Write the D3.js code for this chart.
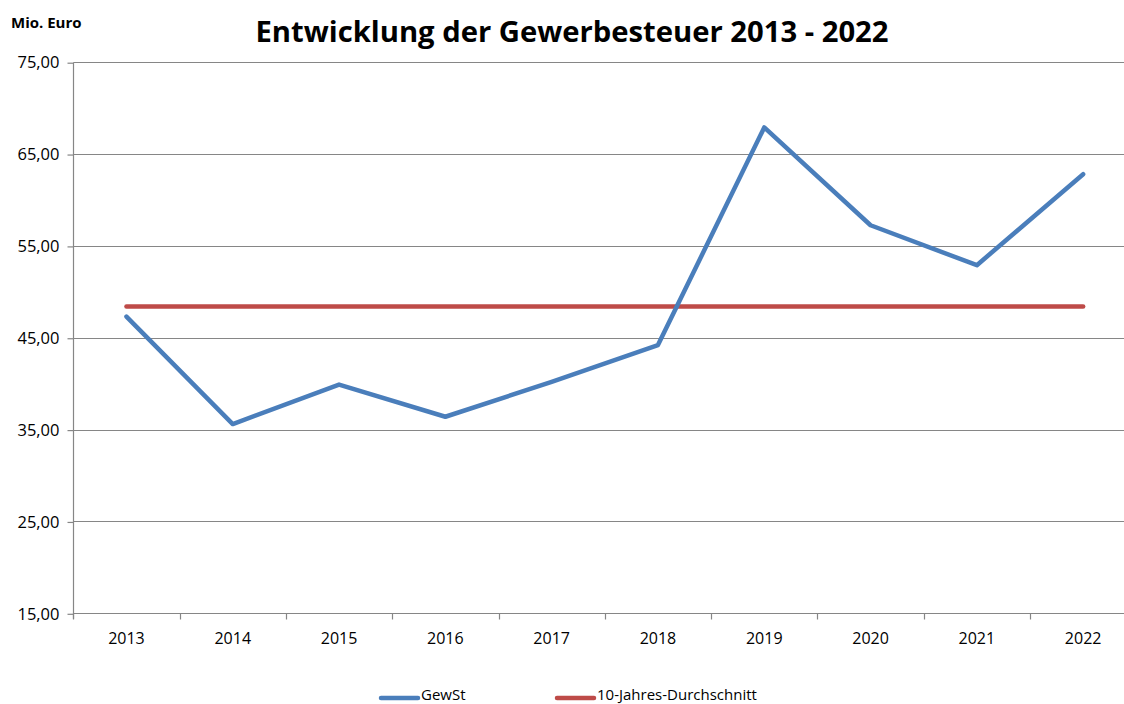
<!DOCTYPE html>
<html>
<head>
<meta charset="utf-8">
<script src="https://cdn.jsdelivr.net/npm/d3@7"></script>
<style>
  body { margin: 0; background: #fff; }
  text { font-family: "Open Sans", "DejaVu Sans", sans-serif; fill: #000; }
</style>
</head>
<body>
<div class="graph-container"></div>
<script>
// data
const years = ['2013', '2014', '2015', '2016', '2017', '2018', '2019', '2020', '2021', '2022'];
const gewSt = [47.3, 35.6, 39.9, 36.4, 40.2, 44.2, 67.9, 57.25, 52.9, 62.8];
const average = [48.4, 48.4, 48.4, 48.4, 48.4, 48.4, 48.4, 48.4, 48.4, 48.4];
const yTicks = [15, 25, 35, 45, 55, 65, 75];
const seriesNames = ['GewSt', '10-Jahres-Durchschnitt'];

// svg parameters
const w = 1124;
const h = 704;
const plotLeft = 73.3;
const plotTop = 62.2;
const plotBottom = 613.3;
const band = 106.3;

const svg = d3.select('.graph-container')
  .append('svg')
  .attr('width', w)
  .attr('height', h);

const xScale = d3.scaleBand(years, [plotLeft, plotLeft + band * years.length]);
const yScale = d3.scaleLinear([15, 75], [plotBottom, plotTop]);

// gridlines
svg.append('g')
  .selectAll('line')
  .data(yTicks.slice(1))
  .enter()
  .append('line')
  .attr('x1', plotLeft)
  .attr('x2', plotLeft + band * years.length)
  .attr('y1', (d) => Math.round(yScale(d)) + 0.5)
  .attr('y2', (d) => Math.round(yScale(d)) + 0.5)
  .attr('stroke', '#868686')
  .attr('stroke-width', 1.2);

// y axis
const yAxis = d3.axisLeft(yScale)
  .tickValues(yTicks)
  .tickSize(6)
  .tickPadding(8)
  .tickFormat((d) => d3.format('.2f')(d).replace('.', ','));
const yG = svg.append('g')
  .attr('transform', `translate(${Math.round(plotLeft) + 0.5}, 0.5)`)
  .call(yAxis);
yG.select('.domain').remove();
yG.append('line')
  .attr('y1', plotTop).attr('y2', plotBottom + 5)
  .attr('stroke', '#868686').attr('stroke-width', 1.2);
yG.selectAll('.tick line').attr('stroke', '#868686').attr('stroke-width', 1.2);
yG.selectAll('.tick text')
  .style('font-size', '16.5px')
  .style('font-family', '"Open Sans", sans-serif')
  .attr('fill', '#000');

// x axis
const xG = svg.append('g')
  .attr('transform', `translate(0, ${Math.round(plotBottom) + 0.5})`);
xG.append('line')
  .attr('x1', plotLeft).attr('x2', w)
  .attr('stroke', '#868686').attr('stroke-width', 1.2);
xG.selectAll('.xtick')
  .data(years)
  .enter()
  .append('line')
  .attr('x1', (d) => Math.round(xScale(d)) + 0.5)
  .attr('x2', (d) => Math.round(xScale(d)) + 0.5)
  .attr('y1', 0).attr('y2', 6)
  .attr('stroke', '#868686').attr('stroke-width', 1.2);
xG.selectAll('.xlabel')
  .data(years)
  .enter()
  .append('text')
  .attr('x', (d) => xScale(d) + band / 2)
  .attr('y', 30)
  .attr('text-anchor', 'middle')
  .style('font-size', '16px')
  .text((d) => d);

// lines
const line = d3.line()
  .x((d, i) => xScale(years[i]) + band / 2)
  .y((d) => yScale(d));

svg.append('path')
  .datum(average)
  .attr('d', line)
  .attr('fill', 'none')
  .attr('stroke', '#be4b48')
  .attr('stroke-width', 4.5)
  .attr('stroke-linecap', 'round');

svg.append('path')
  .datum(gewSt)
  .attr('d', line)
  .attr('fill', 'none')
  .attr('stroke', '#4a7ebb')
  .attr('stroke-width', 4.5)
  .attr('stroke-linecap', 'round')
  .attr('stroke-linejoin', 'round');

// title
const title = svg.append('text')
  .attr('x', 572)
  .attr('y', 42)
  .attr('text-anchor', 'middle')
  .style('font-size', '29px')
  .style('font-weight', 'bold')
  .text('Entwicklung der Gewerbesteuer 2013 - 2022');
title.attr('textLength', 633).attr('lengthAdjust', 'spacingAndGlyphs');

svg.append('text')
  .attr('x', 11)
  .attr('y', 28)
  .style('font-size', '15px')
  .style('font-weight', 'bold')
  .text('Mio. Euro');

// legend
const legendColors = ['#4a7ebb', '#be4b48'];
const legendX = [381, 557];
const legend = svg.append('g').attr('id', 'legend');
seriesNames.forEach((name, i) => {
  legend.append('line')
    .attr('x1', legendX[i]).attr('x2', legendX[i] + 37)
    .attr('y1', 698).attr('y2', 698)
    .attr('stroke', legendColors[i])
    .attr('stroke-width', 4.5)
    .attr('stroke-linecap', 'round');
  legend.append('text')
    .attr('x', legendX[i] + 40)
    .attr('y', 700)
    .style('font-size', '15px')
    .text(name);
});
</script>
</body>
</html>
